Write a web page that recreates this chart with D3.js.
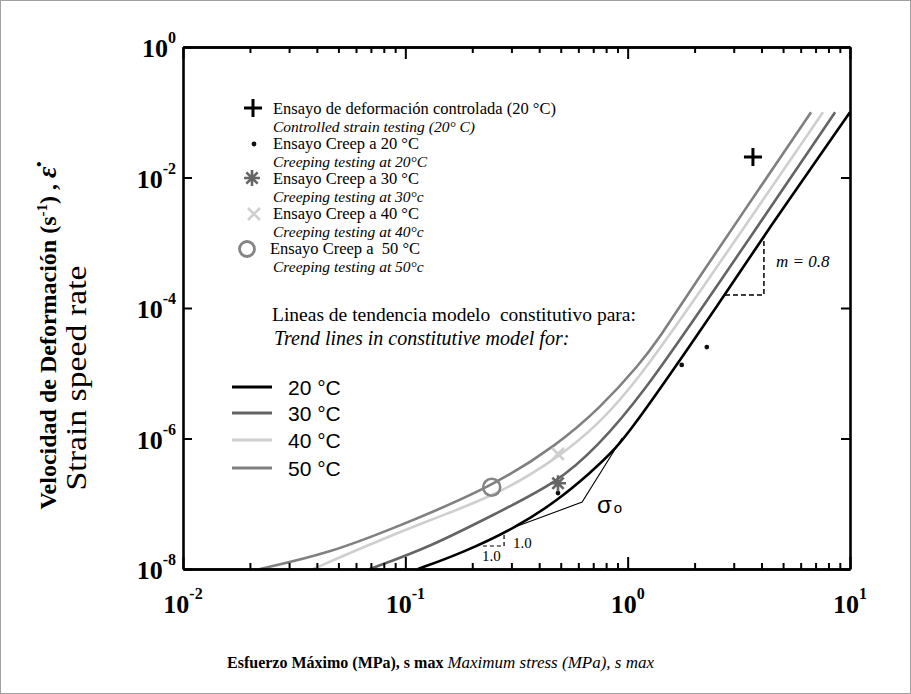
<!DOCTYPE html>
<html><head><meta charset="utf-8">
<script src="https://cdn.jsdelivr.net/npm/d3@7"></script>
<style>body{margin:0;background:#fff}svg{display:block}</style>
</head><body><svg id="c" width="911" height="694"></svg>
<script>
// ---- data ----
const xTickValues = [0.01, 0.1, 1, 10];
const xTickExps = ["-2", "-1", "0", "1"];
const yTickValues = [1, 1e-2, 1e-4, 1e-6, 1e-8];
const yTickExps = ["0", "-2", "-4", "-6", "-8"];

const stress20 = [0.114, 0.18, 0.318, 0.486, 0.677, 0.877, 1.137, 2.74, 4.06, 10];
const rate20   = [1e-8, 1.76e-8, 4.4e-8, 1.14e-7, 2.96e-7, 6.67e-7, 2.06e-6, 1.58e-4, 1.23e-3, 0.1];
const stress30 = [0.0693, 0.129, 0.258, 0.486, 0.728, 1.16, 2.37, 8.57];
const rate30   = [1e-8, 2.17e-8, 7.2e-8, 2.15e-7, 7.4e-7, 4.64e-6, 1.58e-4, 0.1];
const stress40 = [0.0385, 0.0646, 0.129, 0.258, 0.486, 0.751, 1.11, 2.07, 7.56];
const rate40   = [1e-8, 2.17e-8, 5.64e-8, 1.36e-7, 5.02e-7, 1.73e-6, 7.88e-6, 1.58e-4, 0.1];
const stress50 = [0.0222, 0.0458, 0.0918, 0.2455, 0.481, 0.751, 1.137, 1.398, 1.85, 6.68];
const rate50   = [1e-8, 1.76e-8, 4.4e-8, 1.81e-7, 7.94e-7, 2.93e-6, 1.39e-5, 3.6e-5, 1.58e-4, 0.1];

const sigmaOStress = [0.311, 0.624, 0.944];
const sigmaORate   = [4.4e-8, 1.06e-7, 1.02e-6];

const plusStress = [3.66];   const plusRate = [0.0206];
const dotStress  = [1.75, 2.27, 0.486]; const dotRate = [1.34e-5, 2.52e-5, 1.46e-7];
const starStress = [0.486];  const starRate = [2.06e-7];
const crossStress = [0.486]; const crossRate = [5.78e-7];
const circStress = [0.2446]; const circRate = [1.79e-7];

const seriesNames = ["20 °C", "30 °C", "40 °C", "50 °C"];
const markerLegend = [
  ["Ensayo de deformación controlada (20 °C)", "Controlled strain testing (20° C)"],
  ["Ensayo Creep a 20 °C", "Creeping testing at 20°C"],
  ["Ensayo Creep a 30 °C", "Creeping testing at 30°c"],
  ["Ensayo Creep a 40 °C", "Creeping testing at 40°c"],
  ["Ensayo Creep a  50 °C", "Creeping testing at 50°c"]
];

// ---- layout ----
const svg = d3.select("#c");
const serif = "'Liberation Serif','Times New Roman',serif";
const sans = "'Liberation Sans',Arial,sans-serif";
const x = d3.scaleLog().domain([0.01, 10]).range([183, 850]);
const y = d3.scaleLog().domain([1e-8, 1]).range([569, 47]);

svg.append("rect").attr("x", 0.5).attr("y", 0.5).attr("width", 910).attr("height", 693)
  .attr("fill", "#fff").attr("stroke", "#a0a0a0");

// ---- curves ----
const colors = ["#000000", "#646464", "#cfcfcf", "#808080"];
const curveData = [[stress20, rate20], [stress30, rate30], [stress40, rate40], [stress50, rate50]];
const line = d3.line().x(d => x(d[0])).y(d => y(d[1])).curve(d3.curveBasis);
[3, 2, 1, 0].forEach(i => {
  const pts = curveData[i][0].map((s, k) => [s, curveData[i][1][k]]);
  svg.append("path").attr("d", line(pts)).attr("fill", "none")
    .attr("stroke", colors[i]).attr("stroke-width", 2.6);
});
// sigma_o construction
svg.append("path")
  .attr("d", d3.line().x(d => x(d[0])).y(d => y(d[1]))(sigmaOStress.map((s, k) => [s, sigmaORate[k]])))
  .attr("fill", "none").attr("stroke", "#000").attr("stroke-width", 1.1);

// ---- axes ----
const minor = [];
[0.01, 0.1, 1].forEach(d => { for (let k = 2; k <= 9; k++) minor.push(k * d); });
function styleAxis(g, w) {
  g.selectAll("path.domain").attr("stroke", "#000").attr("stroke-width", w);
  g.selectAll(".tick line").attr("stroke", "#000").attr("stroke-width", 2);
  g.selectAll("text").remove();
}
[[d3.axisBottom, 569], [d3.axisTop, 47]].forEach(([ax, ty]) => {
  const gMin = svg.append("g").attr("transform", `translate(0,${ty})`)
    .call(ax(x).tickValues(minor).tickSize(-6).tickSizeOuter(0));
  styleAxis(gMin, 2.6);
  const gMaj = svg.append("g").attr("transform", `translate(0,${ty})`)
    .call(ax(x).tickValues(xTickValues).tickSize(-12).tickSizeOuter(0));
  styleAxis(gMaj, 2.6);
});
const gL = svg.append("g").attr("transform", "translate(183,0)")
  .call(d3.axisLeft(y).tickValues(yTickValues).tickSize(-9).tickSizeOuter(0));
styleAxis(gL, 2.6);
const gR = svg.append("g").attr("transform", "translate(850,0)")
  .call(d3.axisRight(y).tickValues(yTickValues).tickSize(-9).tickSizeOuter(0));
styleAxis(gR, 2.6);

// tick labels
xTickValues.forEach((v, i) => {
  const t = svg.append("text").attr("x", x(v)).attr("y", 613).attr("text-anchor", "middle")
    .attr("font-family", serif).attr("font-weight", "bold").attr("font-size", 26);
  t.append("tspan").text("10");
  t.append("tspan").attr("dy", -14).attr("font-size", 16).text(xTickExps[i]);
});
yTickValues.forEach((v, i) => {
  const t = svg.append("text").attr("x", 176).attr("y", y(v) + 10).attr("text-anchor", "end")
    .attr("font-family", serif).attr("font-weight", "bold").attr("font-size", 26);
  t.append("tspan").text("10");
  t.append("tspan").attr("dy", -14).attr("font-size", 16).text(yTickExps[i]);
});

// ---- markers ----
function plus(g, cx, cy, s, col, w) {
  g.append("path").attr("d", `M${cx - s},${cy}H${cx + s}M${cx},${cy - s}V${cy + s}`)
    .attr("stroke", col).attr("stroke-width", w).attr("fill", "none");
}
function star(g, cx, cy, s, col, w) {
  const d = s * 0.7071;
  g.append("path").attr("d",
    `M${cx - s},${cy}H${cx + s}M${cx},${cy - s}V${cy + s}M${cx - d},${cy - d}L${cx + d},${cy + d}M${cx - d},${cy + d}L${cx + d},${cy - d}`)
    .attr("stroke", col).attr("stroke-width", w).attr("fill", "none");
}
function cross(g, cx, cy, s, col, w) {
  g.append("path").attr("d", `M${cx - s},${cy - s}L${cx + s},${cy + s}M${cx - s},${cy + s}L${cx + s},${cy - s}`)
    .attr("stroke", col).attr("stroke-width", w).attr("fill", "none");
}
plusStress.forEach((s, k) => plus(svg, x(s), y(plusRate[k]), 9, "#000", 3));
dotStress.forEach((s, k) => svg.append("circle").attr("cx", x(s)).attr("cy", y(dotRate[k])).attr("r", 2.4).attr("fill", "#111"));
starStress.forEach((s, k) => star(svg, x(s), y(starRate[k]), 8, "#666", 2.6));
crossStress.forEach((s, k) => cross(svg, x(s), y(crossRate[k]), 6, "#cfcfcf", 2.6));
circStress.forEach((s, k) => svg.append("circle").attr("cx", x(s)).attr("cy", y(circRate[k])).attr("r", 8.5)
  .attr("fill", "none").attr("stroke", "#858585").attr("stroke-width", 2.6));

// ---- annotations ----
const dash = "5,3";
const mTriStress = [2.74, 4.10], mTriRate = [1.58e-4, 1.22e-3];
svg.append("path").attr("d",
  `M${x(mTriStress[0])},${y(mTriRate[0])}H${x(mTriStress[1])}V${y(mTriRate[1])}`)
  .attr("fill", "none").attr("stroke", "#000").attr("stroke-width", 1.5).attr("stroke-dasharray", dash);
svg.append("text").attr("x", x(4.65)).attr("y", y(4.25e-4)).attr("font-family", serif)
  .attr("font-style", "italic").attr("font-size", 17).text("m = 0.8");

const lTriStress = [0.2233, 0.278], lTriRate = [2.25e-8, 3.44e-8];
svg.append("path").attr("d", `M${x(lTriStress[0])},${y(lTriRate[0])}H${x(lTriStress[1])}`)
  .attr("fill", "none").attr("stroke", "#000").attr("stroke-width", 1.2).attr("stroke-dasharray", "4,3");
svg.append("path").attr("d", `M${x(lTriStress[1])},${y(lTriRate[0])}V${y(lTriRate[1])}`)
  .attr("fill", "none").attr("stroke", "#000").attr("stroke-width", 1.2).attr("stroke-dasharray", "4,3");
svg.append("text").attr("x", x(0.305)).attr("y", y(2.1e-8)).attr("font-family", serif)
  .attr("font-size", 15).text("1.0");
svg.append("text").attr("x", x(0.2213)).attr("y", y(1.33e-8)).attr("font-family", serif)
  .attr("font-size", 15).text("1.0");
const so = svg.append("text").attr("x", x(0.728)).attr("y", y(7.2e-8)).attr("font-family", sans).attr("font-size", 24);
so.append("tspan").text("σ");
so.append("tspan").attr("font-size", 15).attr("dx", 2).text("o");

// ---- legend (markers) ----
const legMainY = [114, 149, 184, 219, 254];
const legSubY = [131.5, 166.5, 201.5, 236.5, 271.5];
const legMainX = [273, 273, 273, 273, 270];
markerLegend.forEach((pair, i) => {
  svg.append("text").attr("x", legMainX[i]).attr("y", legMainY[i]).attr("font-family", serif)
    .attr("font-size", 16.5).attr("xml:space", "preserve").style("white-space", "pre").text(pair[0]);
  svg.append("text").attr("x", 273).attr("y", legSubY[i]).attr("font-family", serif)
    .attr("font-style", "italic").attr("font-size", 15.5).text(pair[1]);
});
plus(svg, 253, 108, 9, "#000", 3);
svg.append("circle").attr("cx", 254).attr("cy", 144).attr("r", 2.4).attr("fill", "#111");
star(svg, 252, 178, 8, "#666", 2.6);
cross(svg, 254, 214, 6, "#cfcfcf", 2.6);
svg.append("circle").attr("cx", 247).attr("cy", 249).attr("r", 7.5).attr("fill", "none")
  .attr("stroke", "#858585").attr("stroke-width", 2.8);

svg.append("text").attr("x", 272).attr("y", 321).attr("font-family", serif).attr("font-size", 19.5)
  .attr("xml:space", "preserve").style("white-space", "pre").text("Lineas de tendencia modelo  constitutivo para:");
svg.append("text").attr("x", 274).attr("y", 345).attr("font-family", serif).attr("font-style", "italic")
  .attr("font-size", 20).text("Trend lines in constitutive model for:");

const legLineY = [387, 413, 440, 468];
seriesNames.forEach((n, i) => {
  svg.append("line").attr("x1", 232).attr("x2", 272).attr("y1", legLineY[i]).attr("y2", legLineY[i])
    .attr("stroke", colors[i]).attr("stroke-width", 3);
  svg.append("text").attr("x", 288).attr("y", legLineY[i] + 8).attr("font-family", sans)
    .attr("font-size", 21).text(n);
});

// ---- axis titles ----
const yt = svg.append("text").attr("transform", "translate(56,338) rotate(-90)").attr("text-anchor", "middle")
  .attr("font-family", serif).attr("font-weight", "bold").attr("font-size", 24);
yt.append("tspan").text("Velocidad de Deformación (s");
yt.append("tspan").attr("dy", -9).attr("font-size", 15).text("-1");
yt.append("tspan").attr("dy", 9).text(") , ");
yt.append("tspan").attr("font-style", "italic").attr("font-size", 28).text("ε̇");
svg.append("text").attr("transform", "translate(86,378) rotate(-90)").attr("text-anchor", "middle")
  .attr("font-family", serif).attr("font-size", 30).attr("textLength", 225).attr("lengthAdjust", "spacingAndGlyphs")
  .text("Strain speed rate");

const xt = svg.append("text").attr("x", 227).attr("y", 668).attr("font-family", serif);
xt.append("tspan").attr("font-weight", "bold").attr("font-size", 16).text("Esfuerzo Máximo (MPa), s max ");
xt.append("tspan").attr("font-style", "italic").attr("font-size", 17).text("Maximum stress (MPa), s max");
</script></body></html>
